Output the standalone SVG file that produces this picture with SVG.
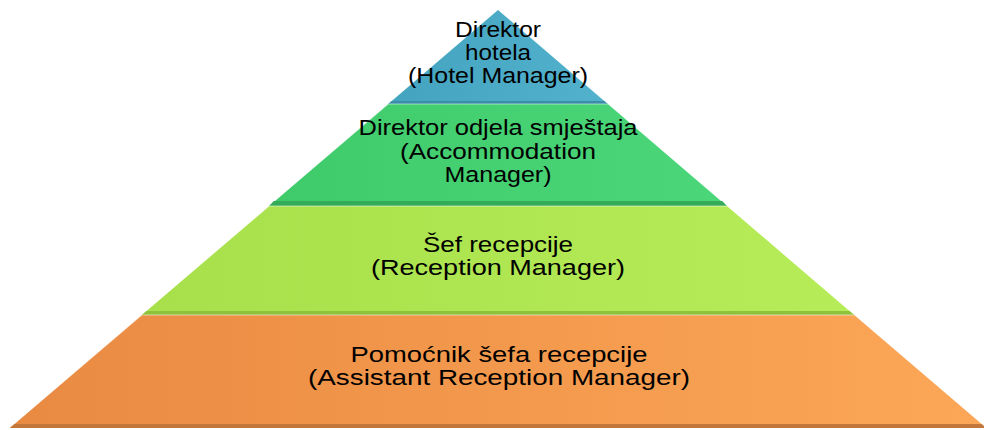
<svg xmlns="http://www.w3.org/2000/svg" width="984" height="430" viewBox="0 0 984 430">
<defs>
<linearGradient id="gBlue" x1="0" y1="0" x2="1" y2="0"><stop offset="0" stop-color="#44a4bf"/><stop offset="1" stop-color="#52b1cc"/></linearGradient>
<linearGradient id="gGreen" x1="0" y1="0" x2="1" y2="0"><stop offset="0" stop-color="#3fcb6a"/><stop offset="1" stop-color="#4bd67a"/></linearGradient>
<linearGradient id="gLime" x1="0" y1="0" x2="1" y2="0"><stop offset="0" stop-color="#a7e04a"/><stop offset="1" stop-color="#b6ec58"/></linearGradient>
<linearGradient id="gOrange" x1="0" y1="0" x2="1" y2="0"><stop offset="0" stop-color="#e98a42"/><stop offset="1" stop-color="#fca757"/></linearGradient>
</defs>
<style>
text{font-family:"Liberation Sans",Arial,sans-serif;font-size:22px;fill:#000;text-anchor:middle}
.hl{fill:none;stroke:#ffffff;stroke-opacity:0.35;stroke-width:1.5}
</style>
<rect width="984" height="430" fill="#ffffff"/>
<g id="layer-hotel-manager">
<polygon points="498,10 607.8,104 388.2,104" fill="url(#gBlue)"/>
<polygon points="391.7,101 604.3,101 607.8,104 388.2,104" fill="#3a8fa8"/>
<text x="498" y="37" textLength="86" lengthAdjust="spacingAndGlyphs">Direktor</text>
<text x="498" y="60" textLength="66" lengthAdjust="spacingAndGlyphs">hotela</text>
<text x="498" y="83" textLength="180" lengthAdjust="spacingAndGlyphs">(Hotel Manager)</text>
</g>
<g id="layer-accommodation-manager">
<polygon points="388.2,104 607.8,104 726.9,206 269.1,206" fill="url(#gGreen)"/>
<polyline class="hl" points="269.1,205 388.2,104 607.8,104"/>
<polygon points="273.8,201 722.2,201 726.9,206 269.1,206" fill="#34ab58"/>
<text x="498" y="135" textLength="279" lengthAdjust="spacingAndGlyphs">Direktor odjela smještaja</text>
<text x="498" y="159" textLength="196" lengthAdjust="spacingAndGlyphs">(Accommodation</text>
<text x="498" y="182" textLength="107" lengthAdjust="spacingAndGlyphs">Manager)</text>
</g>
<g id="layer-reception-manager">
<polygon points="269.1,206 726.9,206 854.2,315 141.8,315" fill="url(#gLime)"/>
<polyline class="hl" points="141.8,314 269.1,206 726.9,206"/>
<polygon points="146.5,311 849.5,311 854.2,315 141.8,315" fill="#8fc23c"/>
<text x="498" y="252" textLength="150" lengthAdjust="spacingAndGlyphs">Šef recepcije</text>
<text x="498" y="275" textLength="254" lengthAdjust="spacingAndGlyphs">(Reception Manager)</text>
</g>
<g id="layer-assistant-reception-manager">
<polygon points="141.8,315 854.2,315 986.2,428 9.8,428" fill="url(#gOrange)"/>
<polyline class="hl" points="9.8,427 141.8,315 854.2,315"/>
<polygon points="14.5,424 981.5,424 986.2,428 9.8,428" fill="#c2773a"/>
<text x="499" y="362" textLength="297" lengthAdjust="spacingAndGlyphs">Pomoćnik šefa recepcije</text>
<text x="499" y="385" textLength="382" lengthAdjust="spacingAndGlyphs">(Assistant Reception Manager)</text>
</g>
<g id="connectors"></g>
</svg>
